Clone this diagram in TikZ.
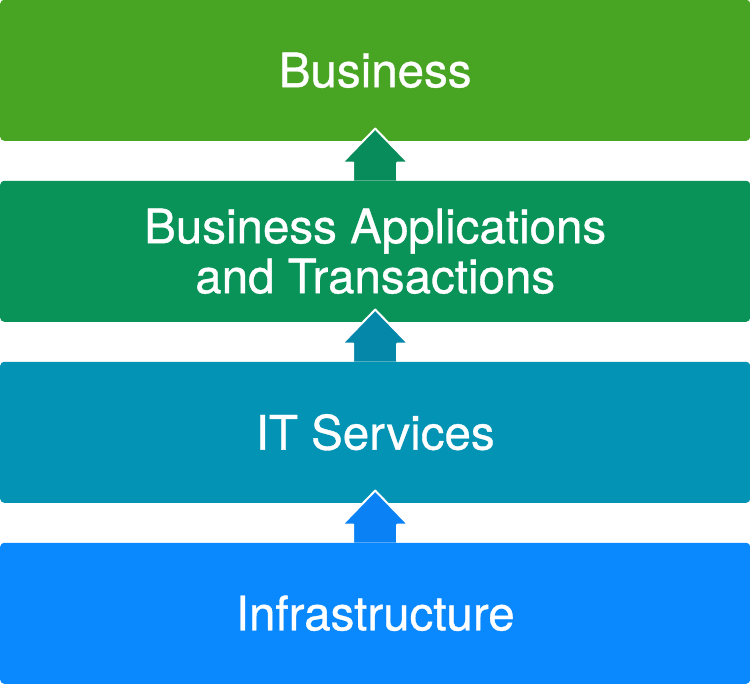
\documentclass[tikz,border=0pt]{standalone}
\usepackage{fontspec}
\newfontfamily\tierfont{TeX Gyre Heros}[FakeBold=0.7]
\usetikzlibrary{calc}

\definecolor{busgreen}{RGB}{72,165,35}
\definecolor{appgreen}{RGB}{10,147,89}
\definecolor{itteal}{RGB}{3,147,181}
\definecolor{infrablue}{RGB}{10,137,255}
\definecolor{apparrow}{RGB}{8,140,91}
\definecolor{itarrow}{RGB}{4,135,169}
\definecolor{infraarrow}{RGB}{10,130,245}

\begin{document}
\begin{tikzpicture}[x=1pt, y=1pt,
    tier/.style={fill=#1, rounded corners=4pt, anchor=south west,
      minimum width=750pt, minimum height=141pt, inner sep=0pt,
      text=white, align=center, font=\tierfont\fontsize{47.5}{50}\selectfont},
    uparrow/.style={fill=#1, draw=white, line width=2pt, line join=round}]
    \useasboundingbox (0,0) rectangle (750,684);

    \node[tier=infrablue] (infra) at (0,0) {Infrastructure};
    \node[tier=itteal] (it) at (0,181) {IT Services};
    \node[tier=appgreen] (apps) at (0,362) {Business Applications\\and Transactions};
    \node[tier=busgreen] (business) at (0,543) {Business};

    % block arrows sit on top of the lower box
    \foreach \lower/\col in {infra/infraarrow, it/itarrow, apps/apparrow}
        \filldraw[uparrow=\col] ($(\lower.north)+(-22,0)$) -- ++(0,18) -- ++(-11,0)
            -- ++(33,34) -- ++(33,-34) -- ++(-11,0) -- ++(0,-18);
\end{tikzpicture}
\end{document}
